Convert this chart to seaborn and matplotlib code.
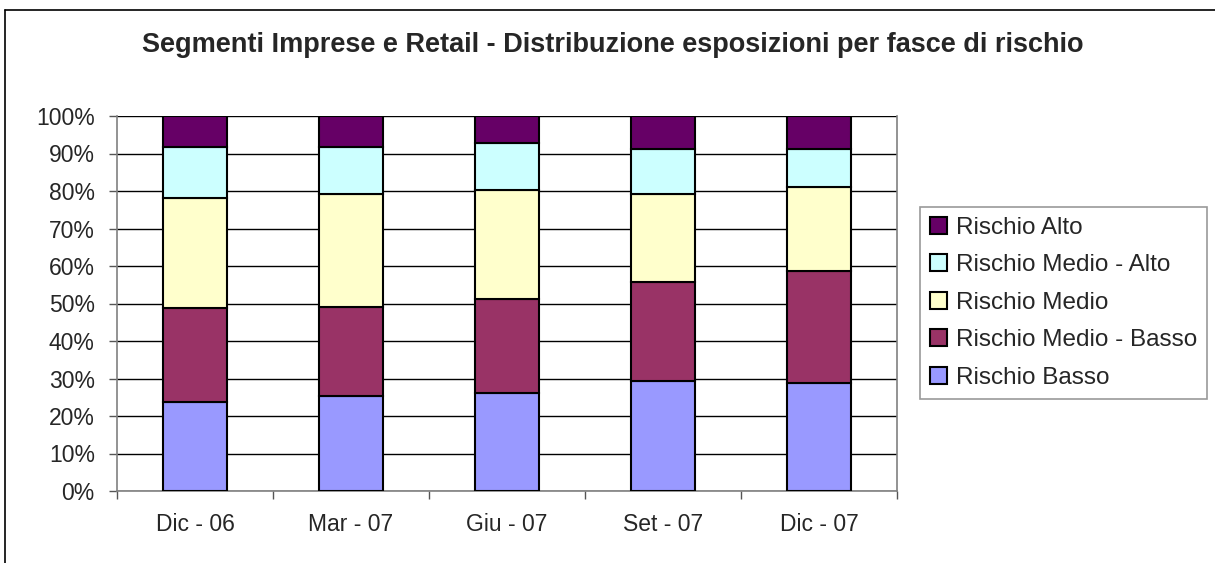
import matplotlib
matplotlib.use("Agg")
import matplotlib.pyplot as plt
import seaborn as sns
import numpy as np
import pandas as pd
from matplotlib.lines import Line2D
from matplotlib.patches import Patch

categories = ["Dic - 06", "Mar - 07", "Giu - 07", "Set - 07", "Dic - 07"]
rischio_basso = [23.7, 25.3, 26.2, 29.4, 28.8]
rischio_medio_basso = [25.0, 23.8, 25.0, 26.4, 29.9]
rischio_medio = [29.4, 30.0, 29.0, 23.3, 22.4]
rischio_medio_alto = [13.7, 12.7, 12.6, 12.2, 10.2]
rischio_alto = [8.2, 8.2, 7.2, 8.7, 8.7]

series_names = ["Rischio Basso", "Rischio Medio - Basso", "Rischio Medio",
                "Rischio Medio - Alto", "Rischio Alto"]
series_values = [rischio_basso, rischio_medio_basso, rischio_medio,
                 rischio_medio_alto, rischio_alto]
colors = ["#9999FF", "#993366", "#FFFFCC", "#CCFFFF", "#660066"]
yticks = [0, 10, 20, 30, 40, 50, 60, 70, 80, 90, 100]
ytick_labels = [f"{v}%" for v in yticks]
title = "Segmenti Imprese e Retail - Distribuzione esposizioni per fasce di rischio"

sns.set_theme(style="white")
plt.rcParams["font.family"] = ["Liberation Sans", "DejaVu Sans"]

fig = plt.figure(figsize=(12.15, 5.63), dpi=100)
ax = fig.add_axes([117/1215, 1-491/563, (897-117)/1215, (491-116)/563])

rows = []
for name, vals in zip(series_names, series_values):
    for c, v in zip(categories, vals):
        rows.append({"cat": c, "serie": name, "val": v})
df = pd.DataFrame(rows)

bottom = np.zeros(len(categories))
for name, col in zip(series_names, colors):
    sub = df[df["serie"] == name]
    vals = sub["val"].to_numpy()
    sns.barplot(data=sub, x="cat", y="val", order=categories, color=col,
                bottom=bottom, width=0.41, edgecolor="black", linewidth=1.5,
                saturation=1, ax=ax, errorbar=None, zorder=3)
    bottom = bottom + vals

ax.set_ylim(0, 100)
ax.set_xlim(-0.5, len(categories) - 0.5)
ax.set_xlabel("")
ax.set_ylabel("")
ax.set_yticks(yticks)
ax.set_yticklabels(ytick_labels, fontsize=16.5)
ax.yaxis.grid(True, color="black", linewidth=1, zorder=0)
ax.xaxis.grid(False)
ax.set_axisbelow(True)

ax.set_xticks(np.arange(-0.5, len(categories)), labels=[""] * (len(categories) + 1))
ax.set_xticks(np.arange(len(categories)), labels=categories, minor=True)
ax.tick_params(axis="x", which="major", length=6, width=1, color="#555555", direction="out", bottom=True)
ax.tick_params(axis="x", which="minor", length=0, pad=16, labelsize=16.5, bottom=True)
ax.tick_params(axis="y", length=6, width=1, color="#555555", direction="out", left=True, pad=10)

for s in ["left", "bottom", "right"]:
    ax.spines[s].set_visible(True)
    ax.spines[s].set_color("#808080")
    ax.spines[s].set_linewidth(1.2)
ax.spines["top"].set_visible(False)

handles = [Patch(facecolor=c, edgecolor="black", linewidth=1.5, label=n)
           for n, c in zip(series_names, colors)][::-1]
leg = fig.legend(handles=handles, loc="upper left",
                 bbox_to_anchor=(920/1215, 1-207/563), bbox_transform=fig.transFigure,
                 frameon=True, fancybox=False, fontsize=17.5,
                 handlelength=0.7, handleheight=0.7, handletextpad=0.4,
                 labelspacing=0.64, borderpad=0.4, borderaxespad=0)
leg.get_frame().set_edgecolor("#808080")
leg.get_frame().set_linewidth(1.2)

fig.text(613/1215, 1-45/563, title, ha="center", va="center",
         fontsize=19.5, fontweight="bold")

fig.add_artist(Line2D([5/1215, 5/1215], [0, 1-10/563], color="black", linewidth=1.2,
                      transform=fig.transFigure))
fig.add_artist(Line2D([5/1215, 1], [1-10/563, 1-10/563], color="black", linewidth=1.2,
                      transform=fig.transFigure))

fig.savefig("out.png", dpi=100)
